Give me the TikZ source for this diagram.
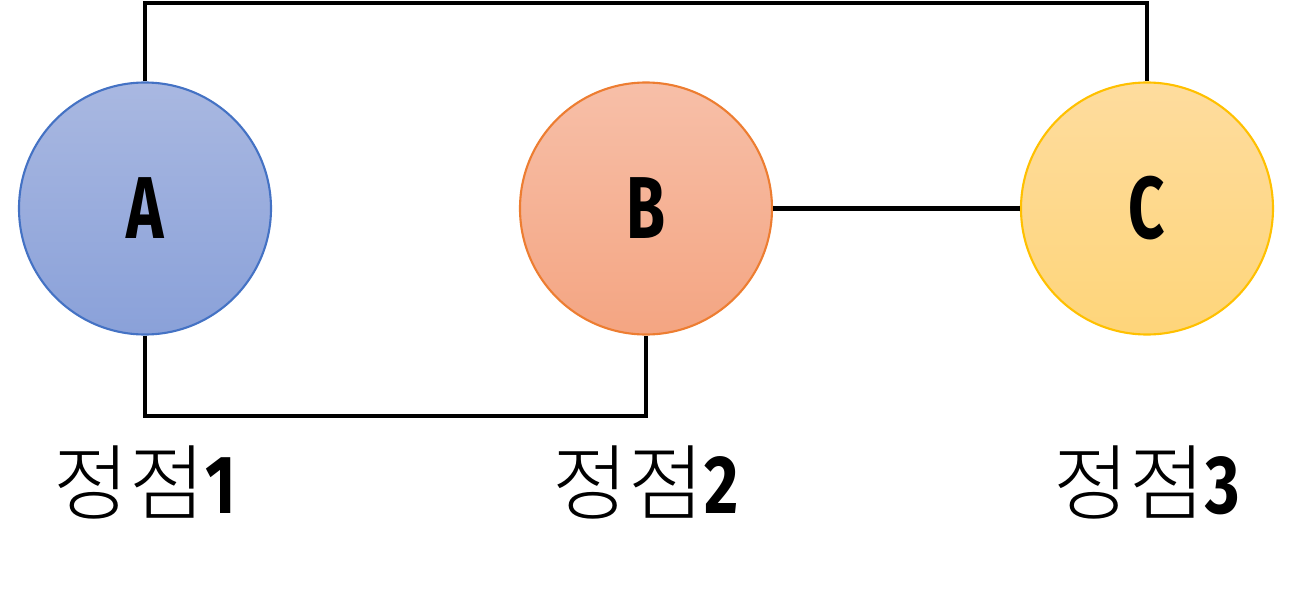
\documentclass[tikz,border=0pt]{standalone}
\usepackage{fontspec}
\usepackage{tikz}
\usetikzlibrary{positioning}
\setmainfont{Fira Sans}
\newfontfamily\cjk{Noto Sans CJK KR Light}
\definecolor{vtxBlueTop}{HTML}{A9B8E1}
\definecolor{vtxBlueBot}{HTML}{8AA1D9}
\definecolor{vtxBlueLine}{HTML}{4472C4}
\definecolor{vtxRedTop}{HTML}{F7BFA8}
\definecolor{vtxRedBot}{HTML}{F4A582}
\definecolor{vtxRedLine}{HTML}{ED7D31}
\definecolor{vtxGoldTop}{HTML}{FEDC9E}
\definecolor{vtxGoldBot}{HTML}{FED57A}
\definecolor{vtxGoldLine}{HTML}{FFC000}
\tikzset{
  vtxcircle/.style={circle,minimum size=2.52cm,inner sep=0pt,line width=0.6pt,
    font=\fontsize{25}{28}\selectfont\bfseries},
  vtxlabel/.style={font=\fontsize{23.5}{27}\selectfont,inner sep=0pt},
  edgeline/.style={draw=black,line width=1.2pt}
}
\newcommand{\vtxletter}[1]{\scalebox{0.72}[1]{#1}}
\newcommand{\vtxname}[1]{{\cjk 정점}\scalebox{0.8}[1]{\bfseries #1}}

\begin{document}
\begin{tikzpicture}
    \useasboundingbox (0,0) rectangle (12.89,5.91);
    \node[vtxcircle,draw=vtxBlueLine,top color=vtxBlueTop,bottom color=vtxBlueBot] (vertexA) at (1.45,3.825) {\vtxletter{A}};
    \node[vtxcircle,draw=vtxRedLine,top color=vtxRedTop,bottom color=vtxRedBot] (vertexB) at (6.46,3.825) {\vtxletter{B}};
    \node[vtxcircle,draw=vtxGoldLine,top color=vtxGoldTop,bottom color=vtxGoldBot] (vertexC) at (11.47,3.825) {\vtxletter{C}};
    \node[vtxlabel] (labelA) at (1.45,1.09) {\vtxname{1}};
    \node[vtxlabel] (labelB) at (6.46,1.09) {\vtxname{2}};
    \node[vtxlabel] (labelC) at (11.47,1.09) {\vtxname{3}};
    % connectors
    \coordinate (toprail) at (0,5.88);
    \coordinate (botrail) at (0,1.75);
    \draw[edgeline] (vertexA.north) -- (vertexA.north |- toprail) -| (vertexC.north);
    \draw[edgeline] (vertexA.south) -- (vertexA.south |- botrail) -| (vertexB.south);
    \draw[edgeline] (vertexB.east) -- (vertexC.west);
  \end{tikzpicture}
\end{document}
